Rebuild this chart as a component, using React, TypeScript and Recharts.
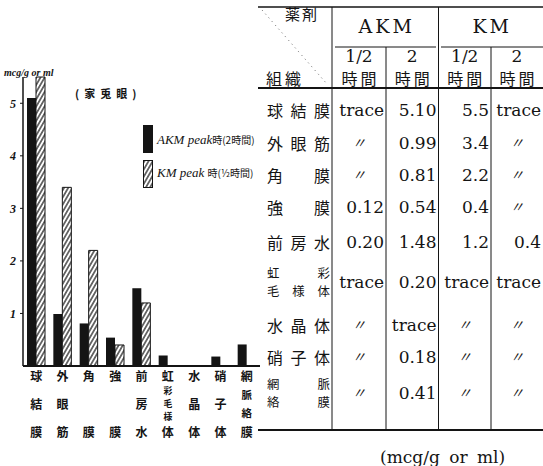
import { BarChart, Bar, XAxis, YAxis } from 'recharts';

const tissues = ['球結膜', '外眼筋', '角膜', '強膜', '前房水', '虹彩毛様体', '水晶体', '硝子体', '網脈絡膜'];
// table values (mcg/g or ml); 〃 = same as above
const akmHalfHour = ['trace', '〃', '〃', '0.12', '0.20', 'trace', '〃', '〃', '〃'];
const akmTwoHours = ['5.10', '0.99', '0.81', '0.54', '1.48', '0.20', 'trace', '0.18', '0.41'];
const kmHalfHour = ['5.5', '3.4', '2.2', '0.4', '1.2', 'trace', '〃', '〃', '〃'];
const kmTwoHours = ['trace', '〃', '〃', '〃', '0.4', 'trace', '〃', '〃', '〃'];
const yTicks = [1, 2, 3, 4, 5];

const toNum = (s: string) => {
    const v = parseFloat(s);
    return isNaN(v) ? 0 : v;
};

// chart shows AKM at its peak (2h) and KM at its peak (1/2h)
const chartData = tissues.map((t, i) => ({
    tissue: t,
    akm: toNum(akmTwoHours[i]),
    km: toNum(kmHalfHour[i]),
}));

const INK = '#141414';
const CJK = "'Noto Sans CJK JP', sans-serif";
const SERIF = "'DejaVu Serif', 'Noto Sans CJK JP', serif";

// vertical label: first char on top row, last on bottom row, the rest squeezed between
const TissueTick = (props: any) => {
    const { x, y, payload } = props;
    const chars: string[] = Array.from(payload.value as string);
    const n = chars.length;
    const top = y + 9;
    const bottom = y + 65;
    const sizes = chars.map((_, i) => (i === 0 || i === n - 1 ? 12 : n > 4 ? 8.8 : n > 3 ? 10.5 : 12));
    const hs = sizes.map((s) => s * 1.45);
    let sum = 0;
    for (let i = 1; i < n; i++) sum += (hs[i - 1] + hs[i]) / 2;
    const gap = n > 1 ? (bottom - top - sum) / (n - 1) : 0;
    const ys: number[] = [top];
    for (let i = 1; i < n; i++) ys.push(ys[i - 1] + (hs[i - 1] + hs[i]) / 2 + gap);
    if (n === 2) ys[1] = bottom;
    return (
        <text textAnchor="middle" dominantBaseline="central" fontFamily={CJK} fontWeight={700} fill={INK}>
            {chars.map((c, i) => (
                <tspan key={i} x={x} y={ys[i]} fontSize={sizes[i]}>{c}</tspan>
            ))}
        </text>
    );
};

// table geometry
const colEdges = [258, 332, 386, 438.5, 491, 543];
const rowY = [110, 143, 175, 207, 242, 282, 325, 357, 393];
const tableCols = [akmHalfHour, akmTwoHours, kmHalfHour, kmTwoHours];

const abs = (left: number, top: number, width: number, height: number) => ({
    position: 'absolute' as const, left, top, width, height,
});

function RowLabel({ name, cy }: { name: string; cy: number }) {
    const two = name.length > 3;
    const lines = two ? [name.slice(0, 2), name.slice(2)] : [name];
    const h = two ? 18 : 20;
    return (
        <>
            {lines.map((line, li) => {
                const top = cy - h / 2 + (two ? (li === 0 ? -9 : 9) : 0);
                return (
                    <div key={li} style={{ ...abs(267, top, 63, h), fontFamily: CJK, fontSize: two ? 12.4 : 16, lineHeight: h + 'px', textAlign: 'justify', textAlignLast: 'justify', color: INK }}>
                        {line}
                    </div>
                );
            })}
        </>
    );
}

export default function App() {
    return (
        <div style={{ position: 'absolute', left: 0, top: 0, width: 543, height: 466, background: '#fff', overflow: 'hidden', color: INK }}>
            <svg width={0} height={0} style={{ position: 'absolute' }}>
                <defs>
                    <pattern id="hatch" patternUnits="userSpaceOnUse" width={3.6} height={4} patternTransform="rotate(30)">
                        <rect width={3.6} height={4} fill="#fff" />
                        <line x1={1.8} y1={0} x2={1.8} y2={4} stroke={INK} strokeWidth={1.2} />
                    </pattern>
                </defs>
            </svg>

            {/* bar chart */}
            <div style={abs(0, 0, 262, 466)}>
                <BarChart width={262} height={466} data={chartData} margin={{ top: 77, right: 2, bottom: 0, left: 0 }} barGap={0} barSize={9}>
                    <XAxis dataKey="tissue" height={100} interval={0} tickLine={false} tickSize={0} tickMargin={0}
                        axisLine={{ stroke: INK, strokeWidth: 2 }} tick={<TissueTick />} />
                    <YAxis domain={[0, 5.5]} ticks={yTicks} width={23} tickSize={3} tickMargin={4}
                        axisLine={{ stroke: INK, strokeWidth: 1.5 }} tickLine={{ stroke: INK }}
                        tick={{ fill: INK, fontSize: 12, fontStyle: 'italic', fontWeight: 700, fontFamily: "'Liberation Serif', serif" }} />
                    <Bar dataKey="akm" fill={INK} isAnimationActive={false} />
                    <Bar dataKey="km" fill="url(#hatch)" stroke={INK} strokeWidth={1} isAnimationActive={false} />
                </BarChart>
            </div>

            <div style={{ ...abs(4, 66, 60, 14), fontFamily: "'Liberation Serif', serif", fontStyle: 'italic', fontWeight: 700, fontSize: 10, lineHeight: '14px' }}>mcg/g or ml</div>
            <div style={{ ...abs(75, 86, 80, 14), fontFamily: CJK, fontWeight: 700, fontSize: 11, lineHeight: '14px', letterSpacing: 5 }}>(家兎眼)</div>

            {/* legend */}
            <div style={{ ...abs(143, 125, 10, 28), background: INK }} />
            <svg style={abs(143, 160, 10, 28)} width={10} height={28}>
                <rect x={0.5} y={0.5} width={9} height={27} fill="url(#hatch)" stroke={INK} strokeWidth={1} />
            </svg>
            <div style={{ ...abs(157, 132, 110, 16), fontFamily: "'Liberation Serif', serif", fontStyle: 'italic', fontSize: 13, lineHeight: '16px', whiteSpace: 'nowrap' }}>
                AKM peak<span style={{ fontFamily: CJK, fontStyle: 'normal', fontSize: 10 }}>時(2時間)</span>
            </div>
            <div style={{ ...abs(157, 165, 110, 16), fontFamily: "'Liberation Serif', serif", fontStyle: 'italic', fontSize: 13, lineHeight: '16px', whiteSpace: 'nowrap' }}>
                KM peak <span style={{ fontFamily: CJK, fontStyle: 'normal', fontSize: 10 }}>時(½時間)</span>
            </div>

            {/* table rules */}
            <svg style={abs(0, 0, 543, 466)} width={543} height={466}>
                <line x1={258} y1={7} x2={543} y2={7} stroke={INK} strokeWidth={1.5} />
                <line x1={335} y1={47} x2={436} y2={47} stroke={INK} strokeWidth={1} />
                <line x1={441} y1={47} x2={543} y2={47} stroke={INK} strokeWidth={1} />
                <line x1={258} y1={88} x2={543} y2={88} stroke={INK} strokeWidth={2} />
                <line x1={258} y1={430} x2={543} y2={430} stroke={INK} strokeWidth={2} />
                <line x1={332} y1={7} x2={332} y2={430} stroke={INK} strokeWidth={1} />
                <line x1={386} y1={47} x2={386} y2={430} stroke={INK} strokeWidth={1} />
                <line x1={438.5} y1={7} x2={438.5} y2={430} stroke={INK} strokeWidth={1} />
                <line x1={491} y1={47} x2={491} y2={430} stroke={INK} strokeWidth={1} />
                <line x1={262} y1={10} x2={327} y2={84} stroke="#666" strokeWidth={1} strokeDasharray="1 4" />
            </svg>

            {/* table header */}
            <div style={{ ...abs(285, 4, 50, 20), fontFamily: CJK, fontSize: 15, lineHeight: '20px', letterSpacing: 2 }}>薬剤</div>
            <div style={{ ...abs(266, 68, 50, 20), fontFamily: CJK, fontSize: 16, lineHeight: '20px', letterSpacing: 3 }}>組織</div>
            <div style={{ ...abs(332, 14, 106.5, 24), fontFamily: SERIF, fontSize: 19, lineHeight: '24px', letterSpacing: 3, textAlign: 'center', paddingLeft: 3, boxSizing: 'border-box' }}>AKM</div>
            <div style={{ ...abs(438.5, 14, 104.5, 24), fontFamily: SERIF, fontSize: 19, lineHeight: '24px', letterSpacing: 3, textAlign: 'center', paddingLeft: 3, boxSizing: 'border-box' }}>KM</div>
            {['1/2', '2', '1/2', '2'].map((t, i) => (
                <div key={'h' + i} style={{ ...abs(colEdges[i + 1], 46, colEdges[i + 2] - colEdges[i + 1], 20), fontFamily: SERIF, fontSize: 17, lineHeight: '20px', textAlign: 'center' }}>{t}</div>
            ))}
            {[0, 1, 2, 3].map((i) => (
                <div key={'t' + i} style={{ ...abs(colEdges[i + 1], 68, colEdges[i + 2] - colEdges[i + 1], 20), fontFamily: CJK, fontSize: 16, lineHeight: '20px', textAlign: 'center', letterSpacing: 3, paddingLeft: 3, boxSizing: 'border-box' }}>時間</div>
            ))}

            {/* table body */}
            {tissues.map((name, r) => (
                <RowLabel key={'r' + r} name={name} cy={rowY[r]} />
            ))}
            {tableCols.map((col, c) =>
                col.map((v, r) => {
                    const ditto = v === '〃';
                    const left = colEdges[c + 1];
                    const width = colEdges[c + 2] - left;
                    return (
                        <div key={c + '-' + r} style={{ ...abs(left, rowY[r] - 11, width, 22), fontFamily: SERIF, fontSize: ditto ? 14 : 17, lineHeight: '22px', textAlign: ditto ? 'center' : 'right', paddingRight: ditto ? 0 : 2, boxSizing: 'border-box', fontStyle: ditto ? 'italic' : 'normal' }}>
                            {v}
                        </div>
                    );
                })
            )}

            <div style={{ ...abs(380, 446, 140, 22), fontFamily: SERIF, fontSize: 17, lineHeight: '22px', wordSpacing: 4 }}>(mcg/g or ml)</div>
        </div>
    );
}
